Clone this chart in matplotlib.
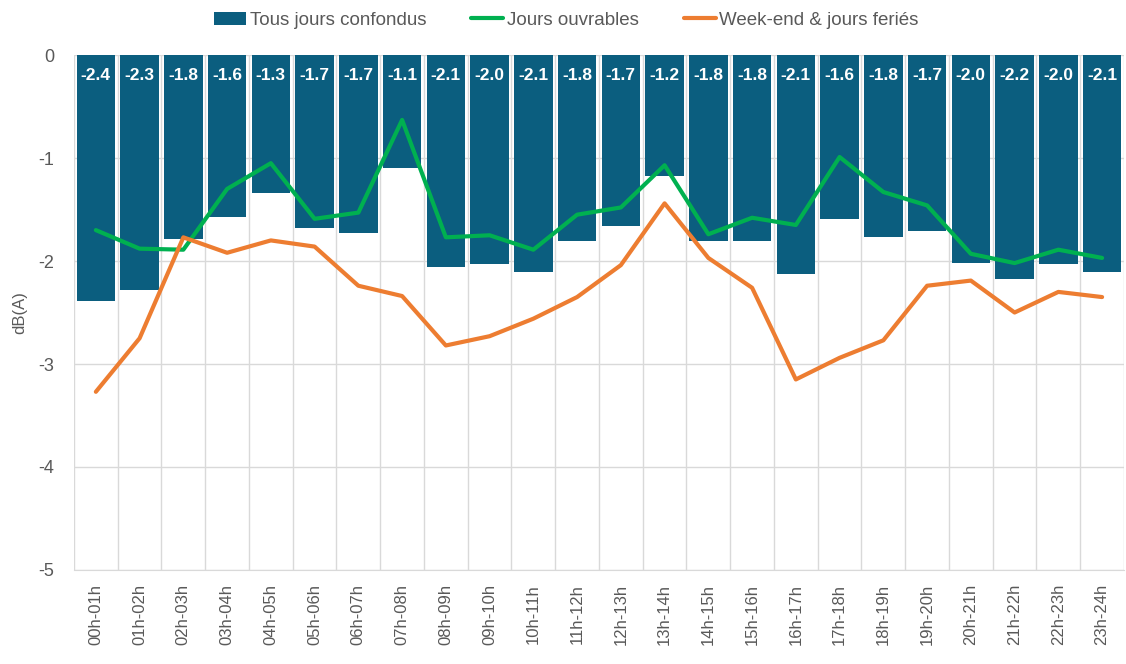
import matplotlib
matplotlib.use("Agg")
import matplotlib.pyplot as plt
import numpy as np

categories = ["00h-01h", "01h-02h", "02h-03h", "03h-04h", "04h-05h", "05h-06h",
              "06h-07h", "07h-08h", "08h-09h", "09h-10h", "10h-11h", "11h-12h",
              "12h-13h", "13h-14h", "14h-15h", "15h-16h", "16h-17h", "17h-18h",
              "18h-19h", "19h-20h", "20h-21h", "21h-22h", "22h-23h", "23h-24h"]
tous = [-2.39, -2.28, -1.79, -1.57, -1.34, -1.68, -1.73, -1.10, -2.06, -2.03,
        -2.11, -1.81, -1.66, -1.17, -1.81, -1.81, -2.13, -1.59, -1.77, -1.71,
        -2.02, -2.17, -2.03, -2.11]
ouvrables = [-1.70, -1.88, -1.89, -1.30, -1.05, -1.59, -1.53, -0.63, -1.77, -1.75,
             -1.89, -1.55, -1.48, -1.07, -1.74, -1.58, -1.65, -0.99, -1.33, -1.46,
             -1.93, -2.02, -1.89, -1.97]
weekend = [-3.27, -2.75, -1.77, -1.92, -1.80, -1.86, -2.24, -2.34, -2.82, -2.73,
           -2.56, -2.35, -2.04, -1.44, -1.97, -2.26, -3.15, -2.94, -2.77, -2.24,
           -2.19, -2.50, -2.30, -2.35]

BAR = "#0B5E7F"
GREEN = "#00B050"
ORANGE = "#ED7D31"
TXT = "#595959"
GRID = "#D9D9D9"

fig = plt.figure(figsize=(11.26, 6.64), dpi=100)
ax = fig.add_axes([0.0657, 0.1416, 0.9325, 0.7755])
x = np.arange(len(categories))

bars = ax.bar(x, tous, width=0.88, color=BAR, zorder=2, label="Tous jours confondus")
l1, = ax.plot(x, ouvrables, color=GREEN, lw=3, zorder=3, label="Jours ouvrables", solid_capstyle="round")
l2, = ax.plot(x, weekend, color=ORANGE, lw=3, zorder=3, label="Week-end & jours feriés", solid_capstyle="round")

for xi, v in zip(x, tous):
    ax.text(xi, -0.2, f"{v:.1f}", color="white", fontweight="bold", fontsize=12.5,
            ha="center", va="center", zorder=4, family="Liberation Sans")

ax.set_xlim(-0.5, len(categories) - 0.5)
ax.set_ylim(-5, 0)
ax.set_yticks([0, -1, -2, -3, -4, -5])
ax.set_yticklabels(["0", "-1", "-2", "-3", "-4", "-5"])
ax.set_xticks(x)
ax.set_xticklabels(categories, rotation=90, family="Liberation Sans", fontsize=12, color=TXT)
ax.tick_params(axis="y", labelsize=13, colors=TXT, length=0, pad=14)
ax.tick_params(axis="x", length=0, pad=10)
for lab in ax.get_yticklabels():
    lab.set_family("Liberation Sans")

ax.set_xticks(np.arange(-0.5, len(categories), 1.0), minor=True)
ax.grid(True, which="minor", axis="x", color=GRID, lw=1, zorder=0)
ax.grid(True, which="major", axis="y", color=GRID, lw=1, zorder=0)
ax.tick_params(which="minor", length=0)
for s in ["top", "right", "left"]:
    ax.spines[s].set_visible(False)
ax.spines["bottom"].set_color(GRID)
ax.set_ylabel("dB(A)", fontsize=12, color=TXT, family="Liberation Sans", labelpad=8)

leg = fig.legend(handles=[bars, l1, l2], loc="upper center", bbox_to_anchor=(0.503, 1.008), ncol=3,
                 frameon=False, handlelength=1.7, handletextpad=0.2, columnspacing=2.4,
                 prop={"family": "Liberation Sans", "size": 13.5})
for t in leg.get_texts():
    t.set_color(TXT)

fig.savefig("out.png", dpi=100)
